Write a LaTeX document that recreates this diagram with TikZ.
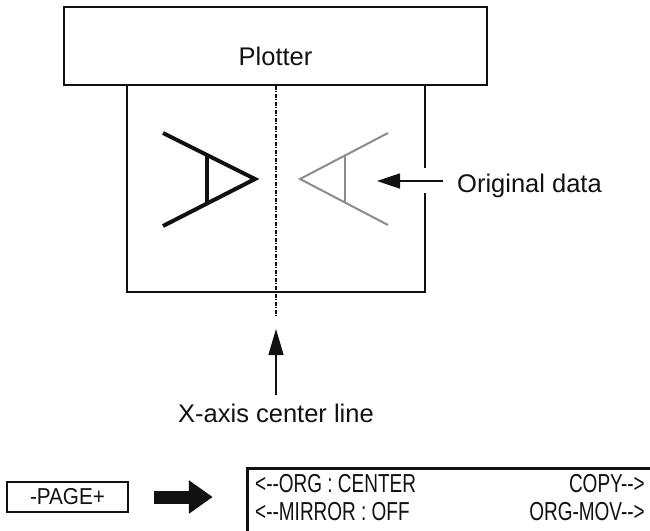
\documentclass[tikz,border=0pt]{standalone}
\usepackage{fontspec}
\setmainfont{Liberation Sans}
\usetikzlibrary{arrows.meta,calc}
\definecolor{ink}{HTML}{111111}
\definecolor{ghost}{HTML}{8C8C8C}
\newcommand{\lcdtext}[1]{\scalebox{0.73}[1]{#1}}

\begin{document}
\begin{tikzpicture}[x=1pt,y=-1pt,line cap=butt,font=\fontsize{25.5}{30}\selectfont]
  \tikzset{
    boxline/.style={draw=ink,line width=1.2pt},
    tag/.style={inner sep=0pt,text=ink},
    pointer/.style={ink,line width=1.8pt,-{Triangle[length=23pt,width=15pt]}},
    glyph/.style={ink,line width=4pt},
    ghostglyph/.style={ghost,line width=2pt},
    lcd/.style={anchor=base west,inner sep=0pt,text=ink,font=\fontsize{26}{30}\selectfont}
  }
  \useasboundingbox (0,0) rectangle (650,530);

  % Plotter head and the sheet under it.
  \node[boxline,tag,minimum width=423pt,text height=58pt,text depth=20pt] (plotter) at (275.5,46) {Plotter};
  \draw[boxline] (425,168) -- (425,85) -- (127,85) -- (127,292) -- (425,292) -- (425,193);
  \coordinate (axisend) at (276,317);
  \draw[ink,line width=1.2pt,dash pattern=on 4pt off 1.5pt on 1pt off 1.5pt]
    (plotter.south -| axisend) -- (axisend);

  % Mirrored figure (black) and original data (grey).
  \coordinate (m1) at (163,133);
  \coordinate (mtip) at (255,179);
  \coordinate (m2) at (163,226);
  \draw[glyph] (m1) -- (mtip) -- (m2);
  \draw[glyph] ($(m1)!.48!(mtip)$) -- ($(m2)!.48!(mtip)$);
  \coordinate (g1) at (388,133);
  \coordinate (gtip) at (300,179);
  \coordinate (g2) at (388,225);
  \draw[ghostglyph] (g1) -- (gtip) -- (g2);
  \draw[ghostglyph] ($(gtip)!.51!(g1)$) -- ($(gtip)!.51!(g2)$);

  % Callouts.
  \coordinate (origtip) at (377,181);
  \node[tag,anchor=base west] (orig) at (457,192) {Original data};
  \draw[pointer,shorten <=14pt] (orig.west |- origtip) -- (origtip);
  \coordinate (axistip) at (276,329);
  \node[tag,anchor=base] (axis) at (276,422) {X-axis center line};
  \draw[pointer,line width=1.6pt,-{Triangle[length=26pt,width=15pt]},shorten <=8pt]
    (axis.north) -- (axistip);

  % Key and display.
  \node[boxline,tag,line width=1.5pt,minimum width=121pt,minimum height=30pt,font=\fontsize{23}{27}\selectfont]
    (page) at (67.5,497) {\scalebox{0.9}[1]{-PAGE+}};
  \coordinate (bigtail) at ($(page.east)+(25,0)$);
  \coordinate (bigtip) at ($(page.east)+(84,0)$);
  \draw[ink,line width=13pt,-{Triangle[length=24pt,width=32pt]}] (bigtail) -- (bigtip);
  \draw[ink,line width=3pt] (247,535) -- (247,468) -- (655,468);
  \node[lcd] (org) at (255,492) {\lcdtext{<-{}-ORG : CENTER}};
  \node[lcd] (mirror) at (255,520) {\lcdtext{<-{}-MIRROR : OFF}};
  \node[lcd,anchor=base east] (copy) at (645,492) {\lcdtext{COPY-{}->}};
  \node[lcd,anchor=base east] (orgmov) at (645,520) {\lcdtext{ORG-MOV-{}->}};
\end{tikzpicture}
\end{document}
